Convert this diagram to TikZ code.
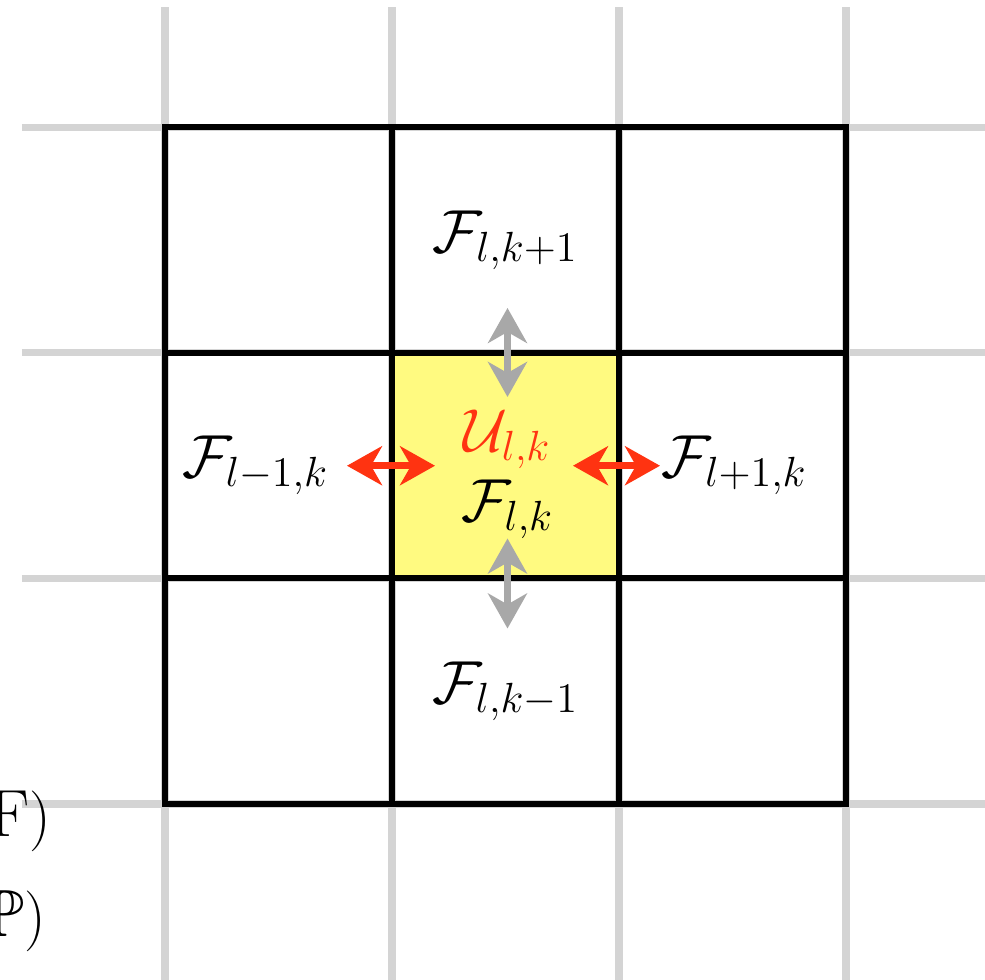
\documentclass[tikz,border=0pt]{standalone}
\usepackage{amsmath,amssymb}
\usetikzlibrary{arrows.meta, positioning, calc}
\definecolor{cgrid}{HTML}{D4D4D4}
\definecolor{cyellow}{HTML}{FFFA80}
\definecolor{cred}{HTML}{FF3311}
\definecolor{cgrey}{HTML}{A8A8A8}
\tikzset{
  cell/.style={draw=black, line width=1.7pt, minimum width=2.27cm, minimum height=2.255cm, inner sep=0pt, outer sep=0pt},
  gridline/.style={draw=cgrid, line width=2pt},
  flux/.style={font=\fontsize{16.8}{20}\selectfont, inner sep=1pt},
  clipped/.style={font=\fontsize{19}{22}\selectfont, anchor=east, inner sep=0pt},
  redarrow/.style={{Stealth[length=3.5mm, width=3.9mm, inset=1.1mm]}-{Stealth[length=3.5mm, width=3.9mm, inset=1.1mm]}, draw=cred, line width=2.1pt},
  greyarrow/.style={{Stealth[length=3.5mm, width=3.9mm, inset=1.1mm]}-{Stealth[length=3.5mm, width=3.9mm, inset=1.1mm]}, draw=cgrey, line width=2.1pt},
}

\begin{document}
\begin{tikzpicture}
  \clip (-1.65,-1.76) rectangle (8.20,8.04);
  % light background grid
  \foreach \x in {0,2.27,4.54,6.81}
    \draw[gridline] (\x,-1.76) -- (\x,7.97);
  \foreach \y in {0,2.255,4.51,6.765}
    \draw[gridline] (-1.43,\y) -- (8.20,\y);
  % stencil cells
  \foreach \i in {0,1,2} {
    \foreach \j in {0,1,2} {
      \node[cell] (c\i\j) at ({1.135+2.27*\i},{1.1275+2.255*\j}) {};
    }
  }
  \fill[cyellow] (c11.south west) rectangle (c11.north east);
  \node[cell] at (c11) {};
  % fluxes and the cell value
  \node[flux] (ftop) at (c12) {$\mathcal{F}_{l,k+1}$};
  \node[flux] (fbot) at (c10) {$\mathcal{F}_{l,k-1}$};
  \node[flux] (fleft) at ($(c01)+(-0.23,0)$) {$\mathcal{F}_{l-1,k}$};
  \node[flux] (fright) at ($(c21)+(0.02,0)$) {$\mathcal{F}_{l+1,k}$};
  \node[flux, text=cred] (ucell) at ($(c11)+(0.02,0.26)$) {$\mathcal{U}_{l,k}$};
  \node[flux] (fcell) at ($(c11)+(0.02,-0.44)$) {$\mathcal{F}_{l,k}$};
  % exchange across the cell faces
  \coordinate (wl) at ($(c11.west)+(-0.45,0)$);
  \coordinate (wr) at ($(c11.west)+(0.43,0)$);
  \coordinate (el) at ($(c11.east)+(-0.46,0)$);
  \coordinate (er) at ($(c11.east)+(0.41,0)$);
  \coordinate (nt) at ($(c11.north)+(0.02,0.45)$);
  \coordinate (nb) at ($(c11.north)+(0.02,-0.44)$);
  \coordinate (st) at ($(c11.south)+(0.02,0.40)$);
  \coordinate (sb) at ($(c11.south)+(0.02,-0.50)$);
  \draw[redarrow] (wl) -- (wr);
  \draw[redarrow] (el) -- (er);
  \draw[greyarrow] (nt) -- (nb);
  \draw[greyarrow] (st) -- (sb);
  % cut-off text at the left edge
  \node[clipped] (lf) at (-1.13,-0.17) {F$)$};
  \node[clipped] (lp) at (-1.18,-1.17) {$\mathbb{P})$};
\end{tikzpicture}
\end{document}
